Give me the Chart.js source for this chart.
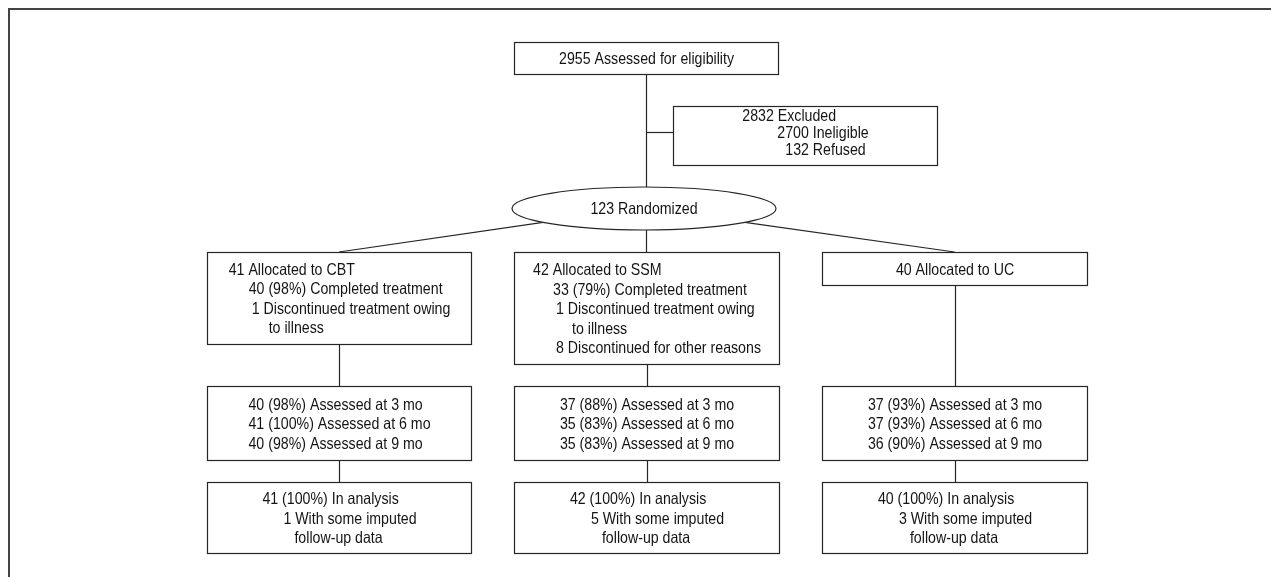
<!DOCTYPE html>
<html>
<head>
<meta charset="utf-8">
<script src="https://cdn.jsdelivr.net/npm/chart.js@4.4.1/dist/chart.umd.min.js"></script>
<style>
  html, body { margin: 0; padding: 0; background: #ffffff; }
  #wrap { position: relative; width: 1271px; height: 577px; }
</style>
</head>
<body>
<div id="wrap"><canvas id="c"></canvas></div>
<script>
// ---------- DATA (text of each flowchart node) ----------
const assessedText   = ['2955 Assessed for eligibility'];
const excludedText   = ['2832 Excluded', '2700 Ineligible', '132 Refused'];
const randomizedText = ['123 Randomized'];
const armNames       = ['CBT', 'SSM', 'UC'];
const allocationText = [
  ['41 Allocated to CBT', '40 (98%) Completed treatment', '1 Discontinued treatment owing', 'to illness'],
  ['42 Allocated to SSM', '33 (79%) Completed treatment', '1 Discontinued treatment owing', 'to illness', '8 Discontinued for other reasons'],
  ['40 Allocated to UC']
];
const followUpText = [
  ['40 (98%) Assessed at 3 mo', '41 (100%) Assessed at 6 mo', '40 (98%) Assessed at 9 mo'],
  ['37 (88%) Assessed at 3 mo', '35 (83%) Assessed at 6 mo', '35 (83%) Assessed at 9 mo'],
  ['37 (93%) Assessed at 3 mo', '37 (93%) Assessed at 6 mo', '36 (90%) Assessed at 9 mo']
];
const analysisText = [
  ['41 (100%) In analysis', '1 With some imputed', 'follow-up data'],
  ['42 (100%) In analysis', '5 With some imputed', 'follow-up data'],
  ['40 (100%) In analysis', '3 With some imputed', 'follow-up data']
];

// ---------- LAYOUT (positions in the hidden scales' units) ----------
const colX = [[207, 471], [514, 779], [822, 1087]];
const layout = {
  assessed:   { box: [514, 778, 42, 74],   indents: [0], lh: 19.5 },
  excluded:   { box: [673, 937, 106, 165], indents: [0, 35, 43], lh: 17.3, dy: -3.5 },
  randomized: { ellipse: [644, 208.5, 132, 21.5], indents: [0], lh: 19.5 },
  allocation: [
    { box: [207, 471, 252, 344], indents: [0, 20, 23, 40], lh: 19.5 },
    { box: [514, 779, 252, 364], indents: [0, 20, 23, 39, 23], lh: 19.5 },
    { box: [822, 1087, 252, 285], indents: [0], lh: 19.5 }
  ],
  followRow:   [386, 460],
  followInd:   [0, 0, 0],
  analysisRow: [482, 553],
  analysisInd: [0, 21, 32],
  rowLH: 19.5
};

function boxCenterX(b) { return (b[0] + b[1]) / 2; }

// build node list
const nodes = [];
nodes.push({ lines: assessedText, ...layout.assessed });
nodes.push({ lines: excludedText, ...layout.excluded });
nodes.push({ lines: randomizedText, ...layout.randomized });
armNames.forEach((a, i) => {
  nodes.push({ lines: allocationText[i], ...layout.allocation[i] });
  nodes.push({ lines: followUpText[i], box: [colX[i][0], colX[i][1], layout.followRow[0], layout.followRow[1]], indents: layout.followInd, lh: layout.rowLH });
  nodes.push({ lines: analysisText[i], box: [colX[i][0], colX[i][1], layout.analysisRow[0], layout.analysisRow[1]], indents: layout.analysisInd, lh: layout.rowLH });
});

// connectors (derived from layout)
function connectors() {
  const A = layout.assessed.box, E = layout.excluded.box, R = layout.randomized.ellipse;
  const trunkX = 646;
  const segs = [];
  segs.push([[trunkX, A[3]], [trunkX, R[1] - R[3]]]);
  const brY = (E[2] + E[3]) / 2 - 4;
  segs.push([[trunkX, brY], [E[0], brY]]);
  const dx = 101;
  const ey = R[1] + R[3] * Math.sqrt(1 - (dx / R[2]) * (dx / R[2]));
  const al = layout.allocation;
  segs.push([[R[0] - dx, ey], [boxCenterX(al[0].box), al[0].box[2]]]);
  segs.push([[trunkX, R[1] + R[3]], [trunkX, al[1].box[2]]]);
  segs.push([[R[0] + dx, ey], [boxCenterX(al[2].box), al[2].box[2]]]);
  for (let i = 0; i < 3; i++) {
    const cx = boxCenterX(al[i].box);
    segs.push([[cx, al[i].box[3]], [cx, layout.followRow[0]]]);
    segs.push([[cx, layout.followRow[1]], [cx, layout.analysisRow[0]]]);
  }
  return segs;
}

const TEXT_COLOR = '#141414';
const LINE_COLOR = '#262626';
const FONT_PX = 16.5;
const FONT_FAMILY = '"Liberation Sans Narrow", "Liberation Sans", Arial, sans-serif';
const REF_WIDTH = 175; // reference width of the top label, used to set a condensed face

const flowPlugin = {
  id: 'flow',
  afterDatasetsDraw(chart) {
    const ctx = chart.ctx;
    const xs = chart.scales.x, ys = chart.scales.y;
    const X = v => xs.getPixelForValue(v);
    const Y = v => ys.getPixelForValue(v);
    const crisp = v => Math.round(v) + 0.5;

    ctx.save();
    ctx.font = FONT_PX + 'px ' + FONT_FAMILY;
    const sx = REF_WIDTH / ctx.measureText(assessedText[0]).width;

    // outer frame (top + left rules)
    ctx.strokeStyle = '#444444';
    ctx.lineWidth = 2;
    ctx.beginPath();
    ctx.moveTo(X(1271) + 2, Y(9));
    ctx.lineTo(X(9), Y(9));
    ctx.lineTo(X(9), Y(577) + 2);
    ctx.stroke();

    // connectors
    ctx.strokeStyle = LINE_COLOR;
    ctx.lineWidth = 1.2;
    connectors().forEach(s => {
      ctx.beginPath();
      const x0 = X(s[0][0]), y0 = Y(s[0][1]), x1 = X(s[1][0]), y1 = Y(s[1][1]);
      if (x0 === x1) { ctx.moveTo(crisp(x0), y0); ctx.lineTo(crisp(x1), y1); }
      else if (y0 === y1) { ctx.moveTo(x0, crisp(y0)); ctx.lineTo(x1, crisp(y1)); }
      else { ctx.moveTo(x0, y0); ctx.lineTo(x1, y1); }
      ctx.stroke();
    });

    // nodes
    nodes.forEach(n => {
      let cx, cy;
      ctx.strokeStyle = LINE_COLOR;
      ctx.lineWidth = 1.2;
      if (n.box) {
        const x0 = crisp(X(n.box[0])), x1 = crisp(X(n.box[1]));
        const y0 = crisp(Y(n.box[2])), y1 = crisp(Y(n.box[3]));
        ctx.fillStyle = '#ffffff';
        ctx.fillRect(x0, y0, x1 - x0, y1 - y0);
        ctx.strokeRect(x0, y0, x1 - x0, y1 - y0);
        cx = (x0 + x1) / 2; cy = (y0 + y1) / 2;
      } else {
        const e = n.ellipse;
        cx = X(e[0]); cy = Y(e[1]);
        const rx = Math.abs(X(e[0] + e[2]) - cx), ry = Math.abs(Y(e[1] + e[3]) - cy);
        ctx.beginPath();
        ctx.ellipse(cx, cy, rx, ry, 0, 0, Math.PI * 2);
        ctx.fillStyle = '#ffffff';
        ctx.fill();
        ctx.stroke();
      }
      ctx.fillStyle = TEXT_COLOR;
      ctx.textAlign = 'left';
      ctx.textBaseline = 'middle';
      let blockW = 0;
      n.lines.forEach((t, i) => {
        blockW = Math.max(blockW, (n.indents[i] || 0) + ctx.measureText(t).width * sx);
      });
      const startX = cx - blockW / 2;
      const totalH = (n.lines.length - 1) * n.lh;
      const startY = cy - totalH / 2 + (n.dy || 0) + 1;
      n.lines.forEach((t, i) => {
        ctx.save();
        ctx.translate(startX + (n.indents[i] || 0), startY + i * n.lh);
        ctx.scale(sx, 1);
        ctx.fillText(t, 0, 0);
        ctx.restore();
      });
    });
    ctx.restore();
  }
};

const anchorPts = nodes.map(n => n.box
  ? { x: boxCenterX(n.box), y: (n.box[2] + n.box[3]) / 2 }
  : { x: n.ellipse[0], y: n.ellipse[1] });

new Chart(document.getElementById('c'), {
  type: 'scatter',
  data: { datasets: [{ data: anchorPts, pointRadius: 0, pointHoverRadius: 0 }] },
  options: {
    responsive: true,
    maintainAspectRatio: false,
    animation: false,
    events: [],
    layout: { padding: 0 },
    plugins: { legend: { display: false }, tooltip: { enabled: false } },
    scales: {
      x: { type: 'linear', min: 0, max: 1271, display: false },
      y: { type: 'linear', min: 0, max: 577, reverse: true, display: false }
    }
  },
  plugins: [flowPlugin]
});
</script>
</body>
</html>
